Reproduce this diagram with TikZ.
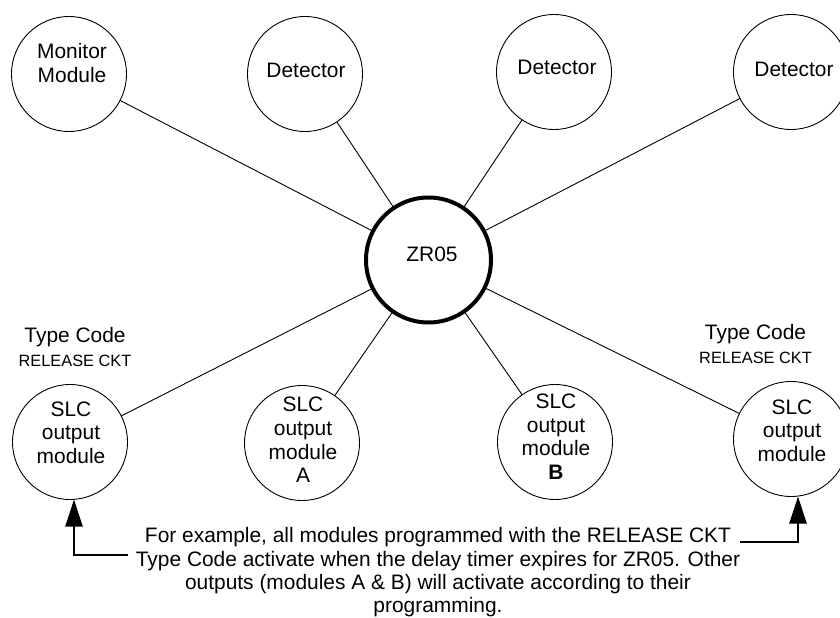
\documentclass[tikz,border=0pt]{standalone}
\usepackage{fontspec}
\setmainfont{Liberation Sans}
\usetikzlibrary{arrows.meta}
\begin{document}
\begin{tikzpicture}[x=1bp,y=-1bp,
  every node/.style={font=\fontsize{21}{23.7}\selectfont, inner sep=0pt, outer sep=0pt},
  dev/.style={circle, draw, line width=0.9bp, minimum size=115bp},
  hub/.style={circle, draw, line width=4bp, minimum size=125bp},
  lbl/.style={align=center},
  smallcaps/.style={font=\fontsize{16.4}{20}\selectfont},
  wire/.style={line width=0.9bp},
  callout/.style={line width=2.6bp, -{Triangle[length=27bp,width=17bp]}}
]
\fill[white] (0,0) rectangle (840,618);
\useasboundingbox (0,0) rectangle (840,618);

% top row
\node[dev] (mon) at (69,74) {};
\node[lbl] (monT) at (72,63) {Monitor\\Module};
\node[dev] (det1) at (305,74) {};
\node[lbl] (det1T) at (306,70) {Detector};
\node[dev] (det2) at (554,72) {};
\node[lbl] (det2T) at (557,67) {Detector};
\node[dev] (det3) at (791,72) {};
\node[lbl] (det3T) at (794,69) {Detector};

% hub
\node[hub] (zr) at (428.5,260) {};
\node[lbl] (zrT) at (432,254.5) {ZR05};

% bottom row
\node[dev] (slcL) at (70,442) {};
\node[lbl] (slcLT) at (71,432.5) {SLC\\output\\module};
\node[dev] (slcA) at (302,443) {};
\node[lbl] (slcAT) at (303,440) {SLC\\output\\module\\A};
\node[dev] (slcB) at (555,442) {};
\node[lbl] (slcBT) at (556,436.5) {SLC\\output\\module\\\textbf{B}};
\node[dev] (slcR) at (791,439) {};
\node[lbl] (slcRT) at (792,430.5) {SLC\\output\\module};

% type code labels
\node[anchor=base] (tcL1) at (75,342) {Type Code};
\node[anchor=base, smallcaps] (tcL2) at (75,366) {RELEASE CKT};
\node[anchor=base] (tcR1) at (755.5,339) {Type Code};
\node[anchor=base, smallcaps] (tcR2) at (755.5,363) {RELEASE CKT};

% connectors
\foreach \n in {mon,det1,det2,det3,slcL,slcA,slcB,slcR}
  \draw[wire] (zr) -- (\n);

% caption
\node[anchor=base] (cap1) at (438,542) {For example, all modules programmed with the RELEASE CKT};
\node[anchor=base] (cap2) at (438,566) {Type Code activate when the delay timer expires for ZR05. Other};
\node[anchor=base] (cap3) at (438,589) {outputs (modules A \& B) will activate according to their};
\node[anchor=base] (cap4) at (438,612) {programming.};

% callout arrows
\coordinate (lstart) at ([shift={(-8,-11)}]cap2.base west);
\coordinate (ltip) at ([xshift=4bp]slcL.south);
\draw[callout] (lstart) -| (ltip);
\coordinate (rstart) at ([shift={(9,0)}]cap1.base east);
\coordinate (rtip) at ([xshift=7bp]slcR.south);
\draw[callout] (rstart) -| (rtip);
\end{tikzpicture}
\end{document}
